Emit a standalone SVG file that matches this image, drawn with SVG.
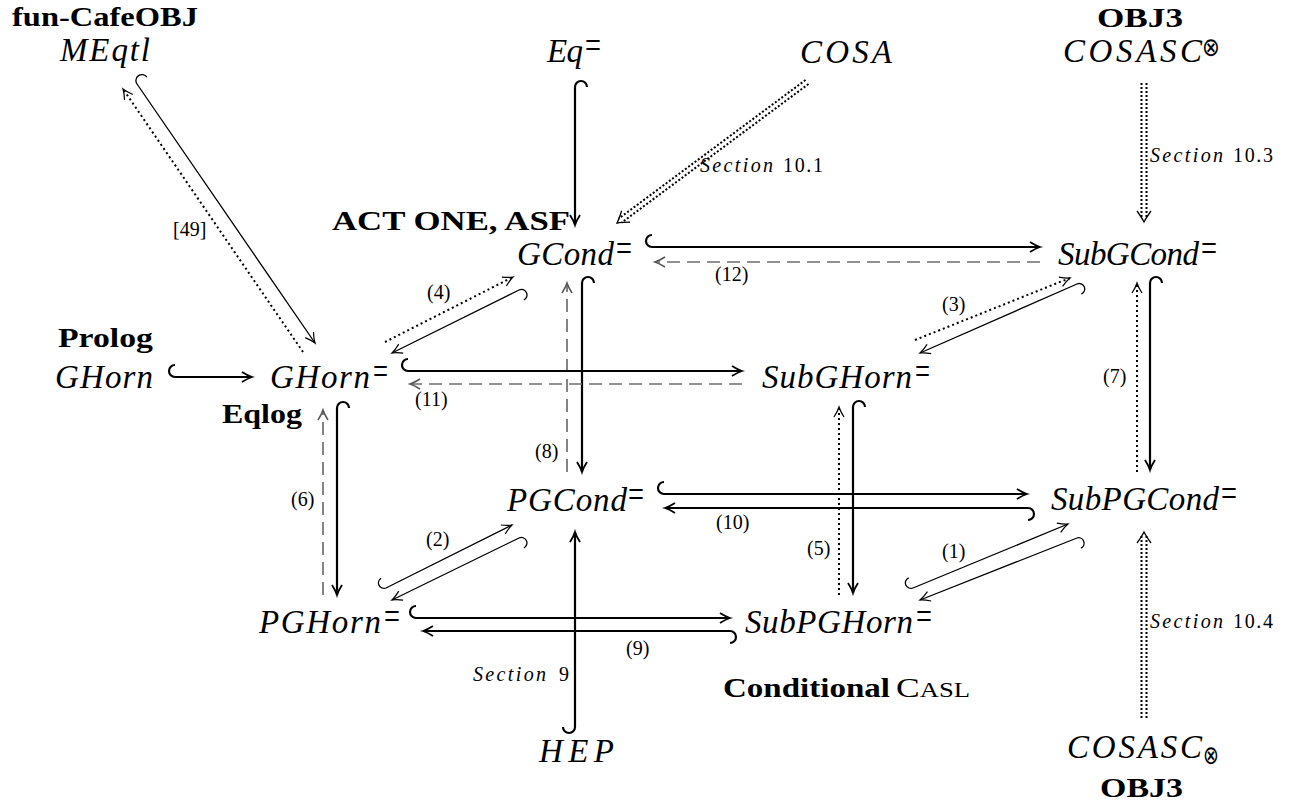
<svg xmlns="http://www.w3.org/2000/svg" width="1294" height="807" viewBox="0 0 1294 807">
<style>
.m{font-family:"Liberation Serif",serif;font-style:italic;font-size:33px;fill:#000}
.b{font-family:"Liberation Serif",serif;font-weight:bold;font-size:28px;fill:#000}
.n{font-family:"Liberation Serif",serif;font-size:20px;fill:#000}
.si{font-family:"Liberation Serif",serif;font-style:italic;font-size:20px;fill:#000}
.q{font-family:"Liberation Serif",serif;font-size:38px;fill:#000}
.ot{font-family:"DejaVu Sans",sans-serif;font-size:26px;fill:#000}
.sc{font-family:"Liberation Serif",serif;font-weight:normal;fill:#000}
.thick{fill:none;stroke:#000;stroke-width:2.2}
.thin{fill:none;stroke:#000;stroke-width:1.3}
.dash{fill:none;stroke:#6e6e6e;stroke-width:1.7;stroke-dasharray:13 7}
.dot{fill:none;stroke:#000;stroke-width:2;stroke-dasharray:2 3}
.dd{fill:none;stroke:#000;stroke-width:2;stroke-dasharray:2 2}
.inv{fill:none;stroke:none}
</style>
<defs>
<marker id="hk" markerUnits="userSpaceOnUse" orient="auto" overflow="visible" markerWidth="1" markerHeight="1" refX="0" refY="0"><path d="M-10,-5 Q-4,-1.2 0,0 Q-4,1.2 -10,5" fill="none" stroke="#000" stroke-width="1.8"/></marker>
<marker id="ht" markerUnits="userSpaceOnUse" orient="auto" overflow="visible" markerWidth="1" markerHeight="1" refX="0" refY="0"><path d="M-10,-5 Q-4,-1.2 0,0 Q-4,1.2 -10,5" fill="none" stroke="#000" stroke-width="1.2"/></marker>
<marker id="hg" markerUnits="userSpaceOnUse" orient="auto" overflow="visible" markerWidth="1" markerHeight="1" refX="0" refY="0"><path d="M-10,-5 Q-4,-1.2 0,0 Q-4,1.2 -10,5" fill="none" stroke="#555" stroke-width="1.5"/></marker>
<marker id="hd" markerUnits="userSpaceOnUse" orient="auto" overflow="visible" markerWidth="1" markerHeight="1" refX="0" refY="0"><path d="M-11,-7 Q-4,-2 0,0 Q-4,2 -11,7" fill="none" stroke="#000" stroke-width="1.3"/></marker>
</defs>

<g id="connectors">
  <path class="thin" d="M146.9,77.2 A6,6 0 0 0 137,84 L315,343" marker-end="url(#ht)"/>
  <path class="dot" d="M303,352 L123,89" marker-end="url(#ht)"/>
  <text class="n" x="173" y="236">[49]</text>
  <path class="thick" d="M587,87 A6,6 0 0 0 575,87 L575,225" marker-end="url(#hk)"/>
  <path class="dd" d="M808.5,84 L621.7,222.6"/>
  <path class="dd" d="M805.5,80 L618.7,218.6"/>
  <path class="inv" d="M807,82 L617,223" marker-end="url(#hd)"/>
  <text class="si" x="700" y="172" textLength="73">Section</text>
  <text class="n" x="783" y="172" textLength="40">10.1</text>
  <path class="dd" d="M1141.5,83 L1141.5,218"/>
  <path class="dd" d="M1146.5,83 L1146.5,218"/>
  <path class="inv" d="M1144,83 L1144,222" marker-end="url(#hd)"/>
  <text class="si" x="1150" y="162" textLength="73">Section</text>
  <text class="n" x="1233" y="162" textLength="40">10.3</text>
  <path class="thick" d="M652,235 A6,6 0 0 0 652,247 L1040,247" marker-end="url(#hk)"/>
  <path class="dash" d="M1040,262 L655,262" marker-end="url(#hg)"/>
  <text class="n" x="715" y="281">(12)</text>
  <path class="thick" d="M175,365 A6,6 0 0 0 175,377 L252,377" marker-end="url(#hk)"/>
  <path class="thick" d="M594,283 A6,6 0 0 0 582,283 L582,472" marker-end="url(#hk)"/>
  <path class="dash" d="M567,472 L567,283" marker-end="url(#hg)"/>
  <text class="n" x="535" y="458">(8)</text>
  <path class="thick" d="M408,359 A6,6 0 0 0 408,371 L742,371" marker-end="url(#hk)"/>
  <path class="dash" d="M742,384 L410,384" marker-end="url(#hg)"/>
  <text class="n" x="415" y="406">(11)</text>
  <path class="thin" d="M523.9,299.9 A5.5,5.5 0 0 0 519,290 L392,353" marker-end="url(#ht)"/>
  <path class="dot" d="M385,342 L513,277" marker-end="url(#ht)"/>
  <text class="n" x="427" y="299">(4)</text>
  <path class="thin" d="M1081.4,294.1 A5.5,5.5 0 0 0 1077,284 L920,353" marker-end="url(#ht)"/>
  <path class="dot" d="M915,340 L1070,278" marker-end="url(#ht)"/>
  <text class="n" x="942" y="311">(3)</text>
  <path class="thick" d="M349,408 A6,6 0 0 0 337,408 L337,595" marker-end="url(#hk)"/>
  <path class="dash" d="M323,595 L323,410" marker-end="url(#hg)"/>
  <text class="n" x="291" y="506">(6)</text>
  <path class="thick" d="M865,407 A6,6 0 0 0 853,407 L853,593" marker-end="url(#hk)"/>
  <path class="dot" d="M839,595 L839,407" marker-end="url(#ht)"/>
  <text class="n" x="807" y="555">(5)</text>
  <path class="thick" d="M1162,283 A6,6 0 0 0 1150,283 L1150,470" marker-end="url(#hk)"/>
  <path class="dot" d="M1137,472 L1137,283" marker-end="url(#ht)"/>
  <text class="n" x="1103" y="383">(7)</text>
  <path class="thick" d="M664,482 A6,6 0 0 0 664,494 L1027,494" marker-end="url(#hk)"/>
  <path class="thick" d="M1028,520 A6,6 0 0 0 1028,508 L665,508" marker-end="url(#hk)"/>
  <text class="n" x="716" y="529">(10)</text>
  <path class="thin" d="M381.1,578.2 A5.5,5.5 0 0 0 386,588 L512,525" marker-end="url(#ht)"/>
  <path class="thin" d="M523.8,547.9 A5.5,5.5 0 0 0 519,538 L392,600" marker-end="url(#ht)"/>
  <text class="n" x="426" y="546">(2)</text>
  <path class="thin" d="M1081,548.2 A5.5,5.5 0 0 0 1077,538 L920,600" marker-end="url(#ht)"/>
  <path class="thin" d="M908.8,577.8 A5.5,5.5 0 0 0 913,588 L1068,524" marker-end="url(#ht)"/>
  <text class="n" x="942" y="558">(1)</text>
  <path class="thick" d="M416,606 A6,6 0 0 0 416,618 L730,618" marker-end="url(#hk)"/>
  <path class="thick" d="M730,643 A6,6 0 0 0 730,631 L423,631" marker-end="url(#hk)"/>
  <text class="n" x="626" y="655">(9)</text>
  <path class="thick" d="M563,727 A6,6 0 0 0 575,727 L575,532" marker-end="url(#hk)"/>
  <text class="si" x="473" y="681" textLength="73">Section</text>
  <text class="n" x="559" y="681">9</text>
  <path class="dd" d="M1141.5,718 L1141.5,536"/>
  <path class="dd" d="M1146.5,718 L1146.5,536"/>
  <path class="inv" d="M1144,718 L1144,532" marker-end="url(#hd)"/>
  <text class="si" x="1150" y="628" textLength="73">Section</text>
  <text class="n" x="1233" y="628" textLength="40">10.4</text>
</g>

<g id="node-MEqtl">
  <text class="b" x="12" y="26" textLength="186" lengthAdjust="spacingAndGlyphs">fun-CafeOBJ</text>
  <text class="m" x="60" y="61" textLength="90">MEqtl</text>
</g>
<g id="node-Eq">
  <text class="m" x="547" y="62" textLength="36">Eq</text>
  <text class="q" x="585" y="58" textLength="16" lengthAdjust="spacingAndGlyphs">=</text>
</g>
<g id="node-COSA">
  <text class="m" x="800" y="63" textLength="92">COSA</text>
</g>
<g id="node-COSASC-top">
  <text class="b" x="1097" y="27" textLength="86" lengthAdjust="spacingAndGlyphs">OBJ3</text>
  <text class="m" x="1063" y="62" textLength="139">COSASC</text>
  <text class="ot" x="1202" y="56" textLength="18" lengthAdjust="spacingAndGlyphs">⊗</text>
</g>
<g id="node-GCond">
  <text class="b" x="332" y="230" textLength="238" lengthAdjust="spacingAndGlyphs">ACT ONE, ASF</text>
  <text class="m" x="517" y="265" textLength="97">GCond</text>
  <text class="q" x="616" y="261" textLength="16" lengthAdjust="spacingAndGlyphs">=</text>
</g>
<g id="node-SubGCond">
  <text class="m" x="1058" y="265" textLength="141">SubGCond</text>
  <text class="q" x="1201" y="261" textLength="16" lengthAdjust="spacingAndGlyphs">=</text>
</g>
<g id="node-GHorn">
  <text class="b" x="58" y="347" textLength="95" lengthAdjust="spacingAndGlyphs">Prolog</text>
  <text class="m" x="55" y="388" textLength="98">GHorn</text>
</g>
<g id="node-GHornEq">
  <text class="b" x="222" y="423" textLength="80" lengthAdjust="spacingAndGlyphs">Eqlog</text>
  <text class="m" x="270" y="388" textLength="100">GHorn</text>
  <text class="q" x="373" y="384" textLength="15" lengthAdjust="spacingAndGlyphs">=</text>
</g>
<g id="node-SubGHorn">
  <text class="m" x="762" y="388" textLength="150">SubGHorn</text>
  <text class="q" x="915" y="384" textLength="15" lengthAdjust="spacingAndGlyphs">=</text>
</g>
<g id="node-PGCond">
  <text class="m" x="507" y="511" textLength="120">PGCond</text>
  <text class="q" x="628" y="507" textLength="16" lengthAdjust="spacingAndGlyphs">=</text>
</g>
<g id="node-SubPGCond">
  <text class="m" x="1051" y="510" textLength="168">SubPGCond</text>
  <text class="q" x="1221" y="506" textLength="16" lengthAdjust="spacingAndGlyphs">=</text>
</g>
<g id="node-PGHorn">
  <text class="m" x="259" y="633" textLength="122">PGHorn</text>
  <text class="q" x="384" y="629" textLength="16" lengthAdjust="spacingAndGlyphs">=</text>
</g>
<g id="node-SubPGHorn">
  <text class="m" x="745" y="633" textLength="168">SubPGHorn</text>
  <text class="q" x="916" y="629" textLength="16" lengthAdjust="spacingAndGlyphs">=</text>
  <text class="b" x="723" y="697" textLength="167" lengthAdjust="spacingAndGlyphs">Conditional</text>
  <text class="sc" x="896" y="697" font-size="28" textLength="74" lengthAdjust="spacingAndGlyphs">C<tspan font-size="21">ASL</tspan></text>
</g>
<g id="node-HEP">
  <text class="m" x="539" y="762" textLength="75">HEP</text>
</g>
<g id="node-COSASC-bottom">
  <text class="m" x="1067" y="758" textLength="135">COSASC</text>
  <text class="ot" x="1203" y="764" textLength="16" lengthAdjust="spacingAndGlyphs">⊗</text>
  <text class="b" x="1100" y="797" textLength="83" lengthAdjust="spacingAndGlyphs">OBJ3</text>
</g>
</svg>
